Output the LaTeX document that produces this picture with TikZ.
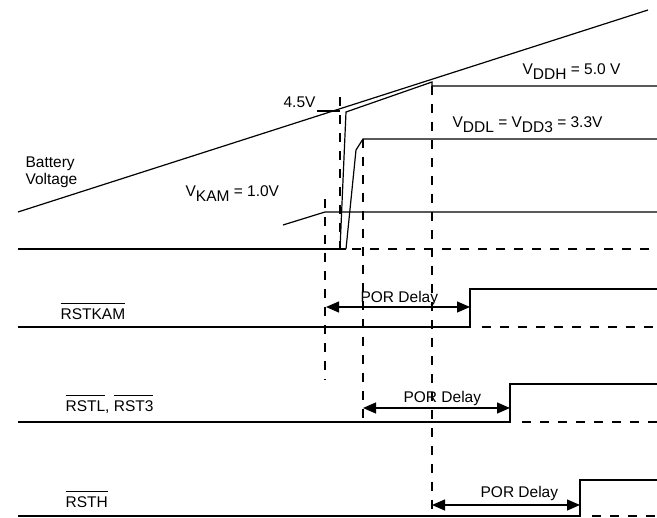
\documentclass[tikz,border=0pt]{standalone}
\usepackage{fontspec}
\setmainfont{Liberation Sans}
\usetikzlibrary{arrows.meta}
\newlength\barw
\newcommand\vsub[1]{\raisebox{-0.5ex}{#1}}
\newcommand\barsig[1]{\settowidth\barw{#1}\rlap{\rule[15.5pt]{\barw}{1.1pt}}#1}
\begin{document}
\begin{tikzpicture}[x=1pt,y=-1pt,line width=1.2pt,
  lbl/.style={font=\fontsize{15.5}{17}\selectfont,inner sep=0pt,anchor=base west},
  dsh/.style={line width=1.3pt,dash pattern=on 9pt off 9pt},
  por/.style={{Triangle[length=13pt,width=11pt]}-{Triangle[length=13pt,width=11pt]}}]
\useasboundingbox (0,0) rectangle (657,518);
% Supply ramps
\draw (18,212) -- (648,10);
\draw (317,111) -- (340,111);
\draw (340,249) -- (346,112) -- (432,82) -- (432,86) -- (657,86);
\draw (346,249) -- (356,150) -- (363,139) -- (657,139);
\draw (283,225) -- (325,212) -- (657,212);
\draw (18,249) -- (346,249); \draw[dsh] (352,249) -- (657,249);
\node[lbl,anchor=north west,align=left] (batt) at (25,156) {Battery\\Voltage};
\node[lbl] (vkam) at (185,197) {V\vsub{KAM} = 1.0V};
\node[lbl] (v45) at (283,108) {4.5V};
\node[lbl] (vddl) at (452,128) {V\vsub{DDL} = V\vsub{DD3} = 3.3V};
\node[lbl] (vddh) at (522,75) {V\vsub{DDH} = 5.0 V};
% Threshold markers
\draw[dsh] (325,199) -- (325,380);
\draw[dsh] (340,97) -- (340,249);
\draw[dsh] (363,139) -- (363,424);
\draw[dsh] (432,86) -- (432,518);
% Reset outputs
\coordinate (kamup) at (470,327); \coordinate (rstlup) at (510,422); \coordinate (rsthup) at (580,516);
\draw (18,327) -- (kamup) -- ++(0,-38) -- (657,289); \draw[dsh] (482,327) -- (657,327);
\draw (18,422) -- (rstlup) -- ++(0,-38) -- (657,384); \draw[dsh] (522,422) -- (657,422);
\draw (18,516) -- (rsthup) -- ++(0,-36) -- (657,480); \draw[dsh] (592,516) -- (657,516);
\node[lbl] (rstkam) at (60,320) {\barsig{RSTKAM}};
\node[lbl] (rstl) at (65,412) {\barsig{RSTL}, \barsig{RST3}};
\node[lbl] (rsth) at (65,508) {\barsig{RSTH}};
\draw[por] (326,307) -- (kamup |- 0,307);
\draw[por] (363,408) -- (rstlup |- 0,408);
\draw[por] (432,505) -- (rsthup |- 0,505);
\node[lbl] (d1) at (360,303) {POR Delay};
\node[lbl] (d2) at (403,403) {POR Delay};
\node[lbl] (d3) at (480,498) {POR Delay};
\end{tikzpicture}
\end{document}
